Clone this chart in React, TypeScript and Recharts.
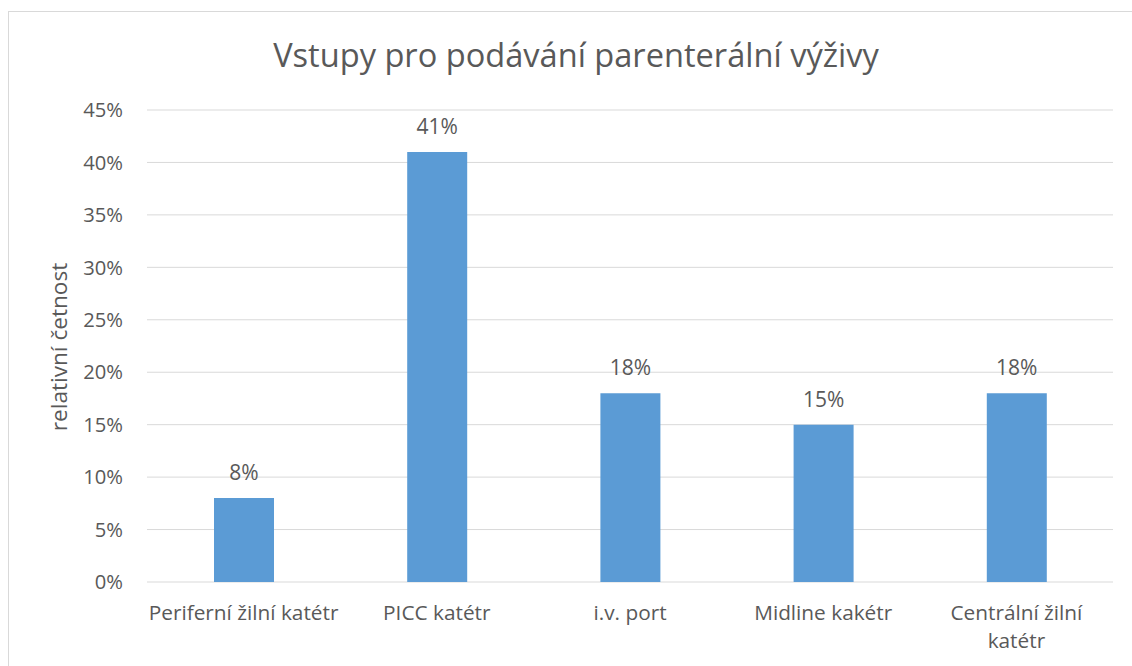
import React from 'react';
import { BarChart, Bar, XAxis, YAxis, CartesianGrid, LabelList } from 'recharts';

const categories = ['Periferní žilní katétr', 'PICC katétr', 'i.v. port', 'Midline kakétr', 'Centrální žilní katétr'];
const values = [0.08, 0.41, 0.18, 0.15, 0.18];
const yTicks = [0, 0.05, 0.1, 0.15, 0.2, 0.25, 0.3, 0.35, 0.4, 0.45];
const tickLines: string[][] = [
  ['Periferní žilní katétr'],
  ['PICC katétr'],
  ['i.v. port'],
  ['Midline kakétr'],
  ['Centrální žilní', 'katétr'],
];
const title = 'Vstupy pro podávání parenterální výživy';
const yLabel = 'relativní četnost';

const data = categories.map((c, i) => ({ name: c, value: values[i], idx: i }));

const FONT = '"Open Sans", sans-serif';
const TEXT = '#595959';

const pct = (v: number) => `${Math.round(v * 100)}%`;

const XTick = (props: any) => {
  const { x, y, index } = props;
  const lines = tickLines[index] || [String(props.payload?.value)];
  return (
    <text x={x} y={y} textAnchor="middle" fill={TEXT} fontSize={20.8} fontFamily={FONT}>
      {lines.map((l, i) => (
        <tspan key={i} x={x} y={y + 38 + i * 28}>{l}</tspan>
      ))}
    </text>
  );
};

const YTick = (props: any) => {
  const { x, y, payload } = props;
  return (
    <text x={x - 24} y={y} dy="0.355em" textAnchor="end" fill={TEXT} fontSize={20.2} fontFamily={FONT}>
      {pct(payload.value)}
    </text>
  );
};

export default function App() {
  return (
    <div style={{ position: 'fixed', left: 0, top: 0, width: 1132, height: 666, overflow: 'hidden', background: '#fff' }}>
      <div style={{ position: 'absolute', left: 8, top: 11, width: 1300, height: 900, border: '1px solid #d9d9d9', boxSizing: 'border-box' }} />
      <div style={{ position: 'absolute', left: 0, top: 0 }}>
        <BarChart width={1132} height={666} data={data} margin={{ top: 110, right: 19, left: 0, bottom: 0 }}>
          <CartesianGrid horizontal vertical={false} stroke="#d9d9d9" strokeWidth={1} />
          <XAxis dataKey="name" height={84} tickLine={false} axisLine={false} tickSize={0} tickMargin={0} tick={<XTick />} interval={0} />
          <YAxis width={147} domain={[0, 0.45]} ticks={yTicks} tickLine={false} axisLine={false} tickSize={0} tickMargin={0} tick={<YTick />} interval={0} />
          <Bar dataKey="value" fill="#5B9BD5" barSize={60} isAnimationActive={false}>
            <LabelList dataKey="value" position="top" offset={18} formatter={(v: any) => pct(Number(v))} fill={TEXT} fontSize={21} fontFamily={FONT} />
          </Bar>
        </BarChart>
      </div>
      <svg width={1132} height={666} style={{ position: 'absolute', left: 0, top: 0, pointerEvents: 'none' }}>
        <text x={576} y={67} textAnchor="middle" fill={TEXT} fontSize={32.6} fontFamily={FONT}>{title}</text>
        <text x={67} y={347} transform="rotate(-90 67 347)" textAnchor="middle" fill={TEXT} fontSize={22.6} fontFamily={FONT}>{yLabel}</text>
      </svg>
    </div>
  );
}
